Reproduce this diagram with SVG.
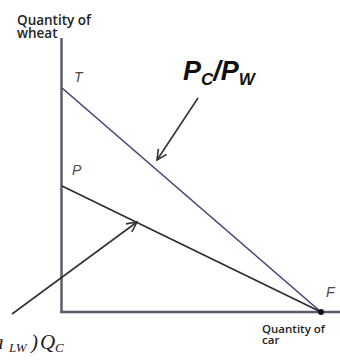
<svg xmlns="http://www.w3.org/2000/svg" width="340" height="363" viewBox="0 0 340 363">
<defs>
<style>
.axis{stroke:#5b5e68;stroke-width:2.5;fill:none}
.line{stroke-width:1.6;fill:none}
.arr{stroke:#333;stroke-width:1.6;fill:none;marker-end:url(#open)}
.lab{font-family:"Open Sans","Noto Sans",sans-serif;font-weight:600;fill:#222}
.pt{font-family:"Liberation Sans",Arial,sans-serif;font-style:italic;fill:#4a4a4a;font-size:14px}
.ratio{font-family:"Liberation Sans",Arial,sans-serif;font-style:italic;font-weight:bold;fill:#111}
.ser{font-family:"Liberation Serif","Times New Roman",serif;font-style:italic;fill:#222}
</style>
<marker id="open" viewBox="0 0 12 12" refX="11" refY="6" markerWidth="12" markerHeight="12" markerUnits="userSpaceOnUse" orient="auto">
<path d="M1,1 L11,6 L1,11" fill="none" stroke="#333" stroke-width="1.6"/>
</marker>
</defs>
<rect width="340" height="363" fill="#fff"/>
<g id="axes">
<line class="axis" x1="61.5" y1="38" x2="61.5" y2="312"/>
<line class="axis" x1="60" y1="312" x2="340" y2="312"/>
</g>
<g id="connectors">
<line class="line" x1="62" y1="88" x2="321" y2="312" stroke="#3b4878"/>
<line class="line" x1="62" y1="186" x2="321" y2="312" stroke="#2a2a35"/>
<line class="arr" x1="12" y1="314" x2="137" y2="222"/>
<line class="arr" x1="198" y1="98" x2="157" y2="160"/>
</g>
<g id="node-T"><text class="pt" x="74" y="82">T</text></g>
<g id="node-P"><text class="pt" x="72" y="175">P</text></g>
<g id="node-F"><circle cx="321" cy="312" r="3" fill="#111"/><text class="pt" x="326" y="297">F</text></g>
<g id="label-wheat">
<text class="lab" font-size="13.5" x="17" y="25">Quantity of</text>
<text class="lab" font-size="13.5" x="17" y="38">wheat</text>
</g>
<g id="label-car">
<text class="lab" font-size="11.5" x="262" y="333">Quantity of</text>
<text class="lab" font-size="11.5" x="262" y="344">car</text>
</g>
<g id="label-ratio">
<text class="ratio" font-size="27" x="183" y="80">P<tspan font-size="17" dy="5">C</tspan><tspan dy="-5">/P</tspan><tspan font-size="17" dy="5">W</tspan></text>
</g>
<g id="label-formula">
<text class="ser" font-size="21" x="-7" y="349">a<tspan font-size="13" x="9" dy="3">LW</tspan><tspan x="31" dy="-3">)</tspan><tspan x="40">Q</tspan><tspan font-size="13" x="55" dy="3">C</tspan></text>
</g>
</svg>
